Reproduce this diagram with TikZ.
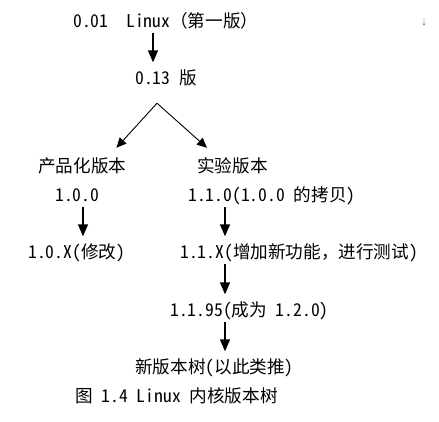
\documentclass[tikz,border=0pt]{standalone}
\usepackage{fontspec}
\setmainfont{Noto Sans CJK SC}[RawFeature=+hwid]
\newfontfamily\fwfont{Noto Sans CJK SC}
\newcommand\fwc[1]{{\fwfont #1}}
\usetikzlibrary{arrows.meta}
\begin{document}
\begin{tikzpicture}[x=1pt,y=1pt,
  lbl/.style={anchor=west,inner sep=0pt,font=\fontsize{17.6}{17.6}\selectfont,text height=14pt,text depth=1pt},
  arr/.style={-{Triangle[width=10pt,length=12pt]},line width=1.5pt,shorten <=4.5pt,shorten >=8pt},
  brarr/.style={-{Triangle[width=9pt,length=10pt]},line width=0.9pt}]
\useasboundingbox (0,0) rectangle (439,421);
\coordinate (cA) at (153,0);
\coordinate (cB) at (83,0);
\coordinate (cC) at (225,0);
\node[lbl] (t001) at (73,400) {0.01\hspace{18pt}Linux\fwc{（}第一版\fwc{）}};
\node[lbl] (t013) at (135,343) {0.13 版};
\node[lbl] (tprod) at (38,255) {产品化版本};
\node[lbl] (texp) at (197,255) {实验版本};
\node[lbl] (t100) at (55,226) {1.0.0};
\node[lbl] (t110) at (188,226) {1.1.0(1.0.0 的拷贝)};
\node[lbl] (t10x) at (28,169) {1.0.X(修改)};
\node[lbl] (t11x) at (180,169) {1.1.X(增加新功能\fwc{，}进行测试)};
\node[lbl] (t1195) at (170,111) {1.1.95(成为 1.2.0)};
\node[lbl] (tnew) at (135,54) {新版本树(以此类推)};
\node[lbl] (tcap) at (75,25) {图 1.4 Linux 内核版本树};
\node[inner sep=0pt,text=gray,font=\fontsize{8}{8}\selectfont] (mark) at (424,399) {↓};
\draw[arr] (t001.south -| cA) -- (t013.north -| cA);
\coordinate (apex) at ([shift={(22,-17.5)}]t013.south west);
\draw[brarr] (apex) -- ([shift={(-10,10.5)}]tprod.north east);
\draw[brarr] (apex) -- ([shift={(10,10.5)}]texp.north west);
\draw[arr] (t100.south -| cB) -- (t10x.north -| cB);
\draw[arr] (t110.south -| cC) -- (t11x.north -| cC);
\draw[arr] (t11x.south -| cC) -- (t1195.north -| cC);
\draw[arr] (t1195.south -| cC) -- (tnew.north -| cC);
\end{tikzpicture}
\end{document}
